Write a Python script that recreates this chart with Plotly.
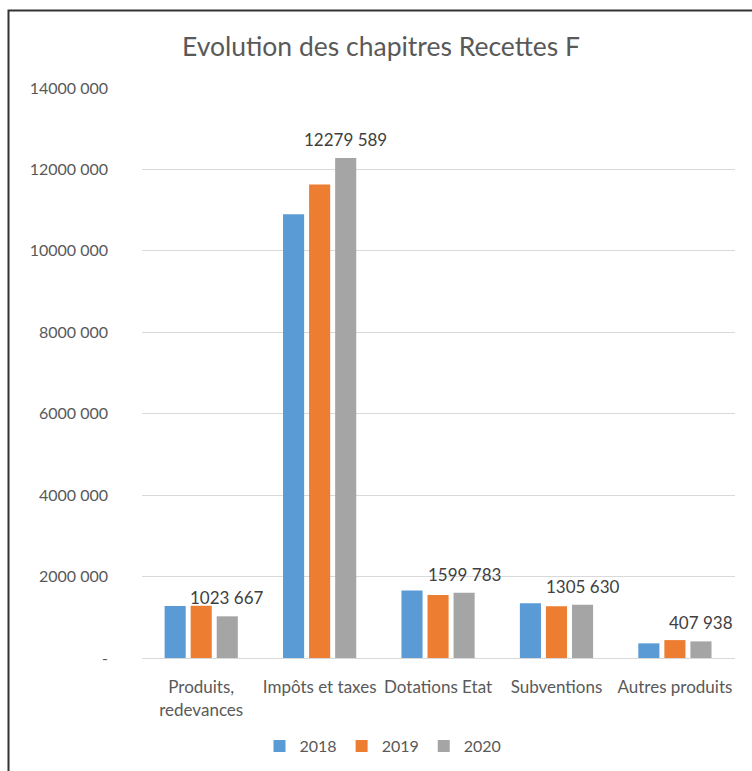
import plotly.graph_objects as go

categories = ["Produits,<br>redevances", "Impôts et taxes", "Dotations Etat", "Subventions", "Autres produits"]
years = ["2018", "2019", "2020"]
values_2018 = [1280000, 10900000, 1660000, 1345000, 360000]
values_2019 = [1285000, 11630000, 1550000, 1270000, 440000]
values_2020 = [1023667, 12279589, 1599783, 1305630, 407938]
colors = ["#5B9BD5", "#ED7D31", "#A5A5A5"]
tick_vals = [0, 2000000, 4000000, 6000000, 8000000, 10000000, 12000000, 14000000]
tick_text = ["-", "2000 000", "4000 000", "6000 000", "8000 000", "10000 000", "12000 000", "14000 000"]


def fmt(v):
    s = f"{v:,}".replace(",", " ")
    parts = s.split(" ")
    if len(parts) > 2:
        s = "".join(parts[:-1]) + " " + parts[-1]
    return s


FONT = "Lato"
GREY = "#595959"

fig = go.Figure()
series = [values_2018, values_2019, values_2020]
for i, (yr, vals) in enumerate(zip(years, series)):
    fig.add_trace(go.Bar(name=yr, x=categories, y=vals, marker_color=colors[i],
                         marker_line_width=0))

W, H = 752, 771
L, R, T, B = 142, 17, 88, 113
pw, ph = W - L - R, H - T - B


def px_x(p):
    return (p - L) / pw


def px_y(p):
    return (H - B - p) / ph


bargap, bargroupgap = 0.34, 0.19
slot = pw / len(categories) * (1 - bargap) / len(years)
annotations = [dict(x=c, y=v, xref="x", yref="y", text=fmt(v), showarrow=False,
                    xshift=slot, yanchor="bottom", yshift=6,
                    font=dict(family=FONT, size=17, color="#404040"))
               for c, v in zip(categories, values_2020)]

fig.update_layout(
    width=W, height=H,
    margin=dict(l=L, r=R, t=T, b=B, autoexpand=False),
    paper_bgcolor="white", plot_bgcolor="white",
    barmode="group", bargap=bargap, bargroupgap=bargroupgap,
    font=dict(family=FONT, color=GREY),
    title=dict(text="Evolution des chapitres Recettes F", x=381 / W, xanchor="center",
               y=1 - 47 / H, yanchor="middle", yref="container",
               font=dict(family=FONT, size=26.5, color=GREY)),
    showlegend=True,
    legend=dict(orientation="h", x=px_x(383), xanchor="center", y=px_y(746), yanchor="middle",
                font=dict(family=FONT, size=16, color=GREY), itemwidth=30,
                traceorder="normal"),
    annotations=annotations,
    shapes=[dict(type="rect", xref="paper", yref="paper",
                 x0=px_x(8.5), x1=px_x(790), y0=px_y(820), y1=px_y(10.5),
                 line=dict(color="#333333", width=2), fillcolor="rgba(0,0,0,0)", layer="above")],
)
fig.update_yaxes(range=[0, 14000000], tickvals=tick_vals, ticktext=tick_text,
                 showgrid=True, gridcolor="#D9D9D9", gridwidth=1, zeroline=False,
                 showline=False, ticks="", ticklabelstandoff=33,
                 tickfont=dict(family=FONT, size=16, color=GREY))
fig.update_xaxes(showline=True, linecolor="#D9D9D9", linewidth=1, ticks="",
                 ticklabelstandoff=14,
                 tickfont=dict(family=FONT, size=17, color=GREY))

fig.write_html("out.html", config={"displayModeBar": False},
               post_script="document.body.style.margin='0';")
